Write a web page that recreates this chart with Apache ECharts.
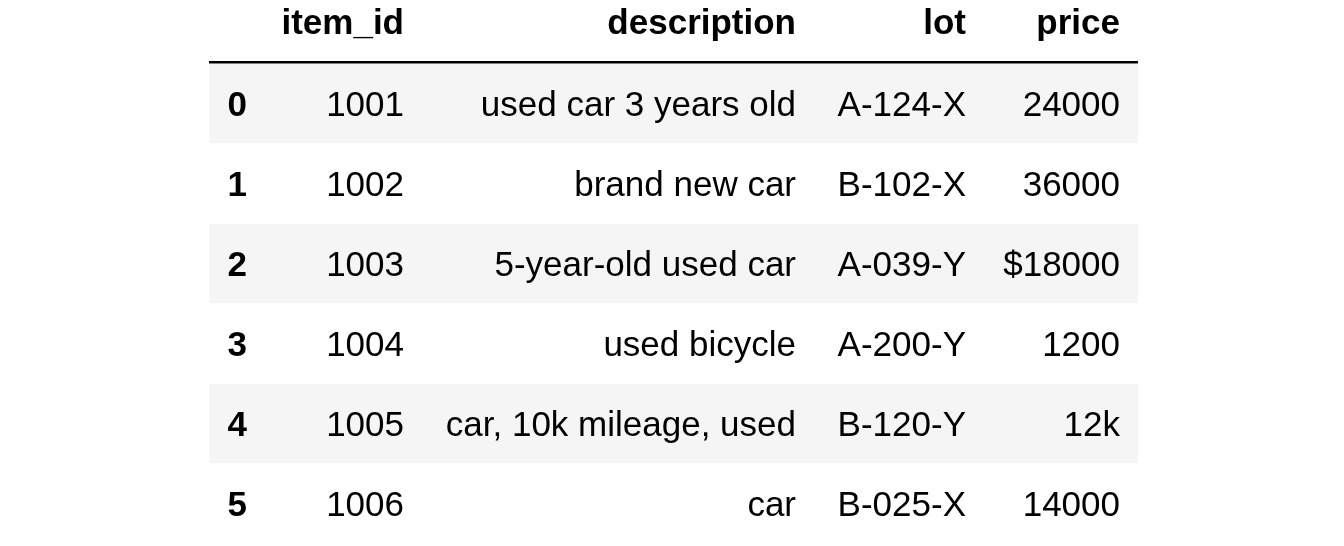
<!DOCTYPE html>
<html>
<head>
<meta charset="utf-8">
<script src="https://cdn.jsdelivr.net/npm/echarts@6/dist/echarts.min.js"></script>
<style>
html,body{margin:0;padding:0;background:#fff;}
#chart{width:1344px;height:546px;}
</style>
</head>
<body>
<div id="chart"></div>
<script>
// ---- data ----
const columns = ['item_id', 'description', 'lot', 'price'];
const rowIndex = ['0', '1', '2', '3', '4', '5'];
const itemId = ['1001', '1002', '1003', '1004', '1005', '1006'];
const description = ['used car 3 years old', 'brand new car', '5-year-old used car', 'used bicycle', 'car, 10k mileage, used', 'car'];
const lot = ['A-124-X', 'B-102-X', 'A-039-Y', 'A-200-Y', 'B-120-Y', 'B-025-X'];
const price = ['24000', '36000', '$18000', '1200', '12k', '14000'];

// ---- layout (not data) ----
const colWidths = [56, 157, 392, 170, 154];
const cellPad = 18;
const fontSize = 35;
const textDy = 3;
const headerOffset = 1.02; // header row centre sits this many row heights above row 0
const fontFamily = '"Liberation Sans", Arial, Helvetica, sans-serif';

const edges = [];
colWidths.reduce((acc, w) => { edges.push(acc + w); return acc + w; }, 0);
const total = edges[edges.length - 1];
const anchors = edges.map(e => e - cellPad);

const cells = [];
columns.forEach((c, i) => cells.push({ value: [anchors[i + 1], rowIndex[0]], text: c, bold: true, header: true }));
rowIndex.forEach((r, ri) => {
  const vals = [r, itemId[ri], description[ri], lot[ri], price[ri]];
  vals.forEach((v, ci) => cells.push({ value: [anchors[ci], r], text: v, bold: ci === 0, header: false }));
});

const stripes = rowIndex.filter((r, i) => i % 2 === 0).map(r => ({ value: [0, r] }));

const chart = echarts.init(document.getElementById('chart'));
chart.setOption({
  animation: false,
  backgroundColor: '#ffffff',
  grid: { left: 209, right: 206, top: 63, bottom: 3, containLabel: false },
  xAxis: { type: 'value', min: 0, max: total, show: false },
  yAxis: { type: 'category', data: rowIndex, inverse: true, show: false },
  series: [
    {
      type: 'custom',
      data: stripes,
      silent: true,
      renderItem(params, api) {
        const p0 = api.coord([0, api.value(1)]);
        const p1 = api.coord([total, api.value(1)]);
        const h = api.size([0, 1])[1];
        return { type: 'rect', shape: { x: p0[0], y: p0[1] - h / 2 + 1, width: p1[0] - p0[0], height: h - 1 }, style: { fill: '#f5f5f5' } };
      }
    },
    {
      type: 'custom',
      data: [{ value: [0, rowIndex[0]] }],
      silent: true,
      renderItem(params, api) {
        const p0 = api.coord([0, api.value(1)]);
        const p1 = api.coord([total, api.value(1)]);
        const h = api.size([0, 1])[1];
        return { type: 'rect', shape: { x: p0[0], y: p0[1] - h / 2 - 2, width: p1[0] - p0[0], height: 2.5 }, style: { fill: '#000000' } };
      }
    },
    {
      type: 'custom',
      data: cells,
      silent: true,
      renderItem(params, api) {
        const cell = cells[params.dataIndex];
        const p = api.coord([api.value(0), api.value(1)]);
        const h = api.size([0, 1])[1];
        const y = (cell.header ? p[1] - h * headerOffset : p[1]) + textDy;
        return {
          type: 'text',
          x: p[0], y: y,
          style: {
            text: cell.text,
            align: 'right', verticalAlign: 'middle',
            textAlign: 'right', textVerticalAlign: 'middle',
            fontSize: fontSize, fontWeight: cell.bold ? 'bold' : 'normal',
            fontFamily: fontFamily, fill: '#000000'
          }
        };
      }
    }
  ]
});
</script>
</body>
</html>
